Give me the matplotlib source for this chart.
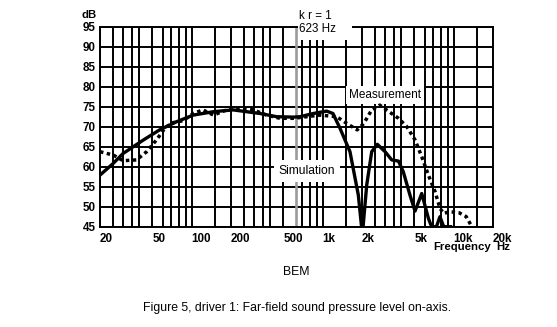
import matplotlib.pyplot as plt
from matplotlib.patches import Rectangle
from matplotlib.ticker import NullLocator

plt.rcParams['font.family'] = ['Liberation Sans', 'DejaVu Sans']

# simulated on-axis level (BEM)
simFreq = [20, 25, 30, 43, 57, 77, 103, 147, 208, 333, 446, 600, 673, 850, 1074,
           1200, 1359, 1619, 1875, 2013, 2173, 2372, 2618, 3000, 3373, 3798,
           4131, 4647, 5080, 5715, 6424, 6797, 7400, 7870, 8410, 9500]
simLevel = [57.9, 60.7, 63.3, 66.7, 69.2, 71.25, 72.9, 73.75, 74.2, 73.3, 72.5, 72.4,
            72.5, 73.3, 73.9, 73.3, 69.6, 63.75, 52.9, 43.0, 55.4, 63.75, 65.6,
            63.75, 61.7, 61.4, 58.75, 52.9, 48.9, 53.3, 47.1, 45.0, 45.0, 47.5,
            45.0, 45.0]

# measured on-axis level
measFreq = [20, 25.3, 30, 38, 45.4, 54, 61.2, 64.5, 72, 86, 103, 122, 147, 185, 234,
            296, 374, 473, 600, 955, 1282, 1534, 1838, 2063, 2372, 2733, 3076,
            3798, 4393, 5080, 5715, 6424, 7226, 7870, 8410, 9300, 11000, 12500,
            13800, 14500]
measLevel = [63.75, 62.9, 61.5, 61.7, 63.75, 66.7, 69.2, 70.0, 71.0, 71.5, 73.3, 74.2,
             72.9, 74.2, 74.6, 74.2, 72.9, 72.1, 72.1, 72.9, 72.5, 70.8, 69.2, 70.8,
             74.2, 75.4, 74.2, 72.1, 70.0, 66.7, 62.5, 57.9, 53.75, 49.6, 48.3,
             48.75, 48.5, 47.5, 45.0, 44.0]

gridFreqs = [20, 25, 30, 35, 40, 50, 60, 70, 80, 90, 100, 150, 200, 250, 300, 350,
             400, 500, 700, 800, 900, 1000, 1500, 2000, 2500, 3000, 3500, 4000,
             5000, 6000, 7000, 8000, 9000, 10000, 15000, 20000]
gridLevels = [45, 50, 55, 60, 65, 70, 75, 80, 85, 90, 95]
xTicks = [20, 50, 100, 200, 500, 1000, 2000, 5000, 10000, 20000]
xTickLabels = ['20', '50', '100', '200', '500', '1k', '2k', '5k', '10k', '20k']
krFreq = 623

W, H = 557, 327
fig = plt.figure(figsize=(W / 100, H / 100), dpi=100)
ax = fig.add_axes([100 / W, (H - 226.7) / H, 393 / W, 200 / H])

ax.set_xscale('log')
ax.set_xlim(20, 20000)
ax.set_ylim(45, 95)

for f in gridFreqs:
    ax.axvline(f, color='black', lw=1.4, zorder=1)
for l in gridLevels:
    ax.axhline(l, color='black', lw=1.4, zorder=1)
ax.axvline(krFreq, color='#9a9a9a', lw=1.9, zorder=1)

ax.plot(simFreq, simLevel, color='black', lw=2.4, zorder=4,
        solid_joinstyle='round')
ax.plot(measFreq, measLevel, color='black', lw=2.5, zorder=4,
        linestyle=(0, (1, 1.0)))

for s in ax.spines.values():
    s.set_linewidth(1.4)

ax.xaxis.set_minor_locator(NullLocator())
ax.set_xticks(xTicks)
ax.set_xticklabels(xTickLabels)
ax.set_yticks(gridLevels)
ax.tick_params(length=0, labelsize=8.4)
ax.tick_params(axis='x', pad=4.5)
ax.tick_params(axis='y', pad=3)
for lbl in ax.get_xticklabels() + ax.get_yticklabels():
    lbl.set_fontweight('bold')
for lbl in ax.get_xticklabels():
    lbl.set_ha('left')

# curve labels on white boxes
ax.text(2980, 77.9, 'Measurement', fontsize=8.5, ha='center', va='center', zorder=3,
        bbox=dict(facecolor='white', edgecolor='none', pad=2.0))
ax.text(760, 58.9, 'Simulation', fontsize=8.7, ha='center', va='center', zorder=3,
        bbox=dict(facecolor='white', edgecolor='none', pad=3.5))

# k r = 1 marker label
ax.add_patch(Rectangle(((298 - 100) / 393, (226.7 - 40) / 200), 54 / 393, 0.1,
                       transform=ax.transAxes, facecolor='white', edgecolor='none',
                       clip_on=False, zorder=3))
fig.text(299 / W, 1 - 10 / H, 'k r = 1\n623 Hz', fontsize=8.4, ha='left', va='top',
         linespacing=1.1, zorder=5)

fig.text(89 / W, 1 - 15 / H, 'dB', fontsize=8.2, fontweight='bold', ha='center',
         va='center')
fig.text(433 / W, 1 - 247 / H, 'Frequency', fontsize=8.2, fontweight='bold',
         ha='left', va='center')
fig.text(496 / W, 1 - 247 / H, 'Hz', fontsize=8.2, fontweight='bold', ha='left',
         va='center')
fig.text(296 / W, 1 - 272 / H, 'BEM', fontsize=8.8, ha='center', va='center')
fig.text(297 / W, 1 - 308 / H,
         'Figure 5, driver 1: Far-field sound pressure level on-axis.',
         fontsize=8.8, ha='center', va='center')

fig.savefig('out.png', dpi=100)
